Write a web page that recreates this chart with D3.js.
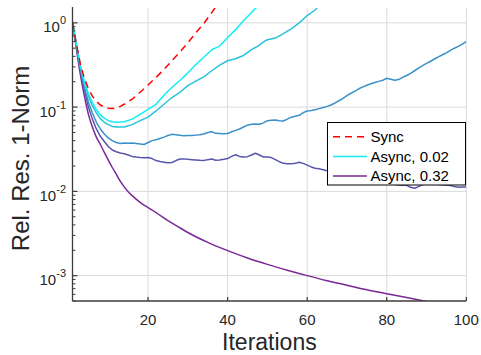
<!DOCTYPE html>
<html><head><meta charset="utf-8">
<script src="https://cdn.jsdelivr.net/npm/d3@7"></script>
<style>
html,body{margin:0;padding:0;background:#fff;}
svg{display:block;font-family:"Liberation Sans",Arial,Helvetica,sans-serif;}
</style></head>
<body><svg id="chart" width="481" height="355"></svg>
<script>
// ---------------- data ----------------
const xTicks = [20, 40, 60, 80, 100];
const yTickExps = [0, -1, -2, -3];
const legendLabels = ["Sync", "Async, 0.02", "Async, 0.32"];
const seriesNames = ["Sync", "Async, 0.02", "Async, 0.04", "Async, 0.08", "Async, 0.16", "Async, 0.32"];

const syncIter = [1,2,3,4,5,6,7,8,9,10,11,12,13,14,16,18,20,22,24,26,28,30,32,34,36,37];
const syncVal  = [1.0,0.55,0.32,0.22,0.165,0.135,0.117,0.106,0.100,0.097,0.096,0.097,0.102,0.108,0.124,0.150,0.183,0.225,0.280,0.355,0.45,0.58,0.76,0.98,1.32,1.55];

const a002Iter = [1,2,3,4,5,6,7,8,9,10,11,12,14,16,18,20,22,24,26,28,30,32,34,36,37,38,40,42,44,46,48];
const a002Val  = [1.0,0.55,0.31,0.20,0.145,0.113,0.093,0.081,0.074,0.069,0.067,0.066,0.067,0.072,0.082,0.094,0.108,0.138,0.172,0.207,0.255,0.32,0.39,0.48,0.505,0.53,0.67,0.83,1.06,1.33,1.65];

const a004Iter = [1,2,3,4,5,6,7,8,9,10,11,12,14,16,18,20,22,24,26,28,30,32,34,36,38,40,42,44,46,48,49,50,52,54,56,58,60,62,63];
const a004Val  = [1.0,0.55,0.30,0.19,0.135,0.104,0.085,0.073,0.066,0.062,0.059,0.058,0.058,0.062,0.069,0.076,0.09,0.108,0.13,0.15,0.18,0.203,0.228,0.27,0.315,0.355,0.375,0.41,0.48,0.545,0.595,0.63,0.66,0.744,0.85,1.0,1.22,1.42,1.6];

const a008Val = [1.0,0.53,0.28,0.17,0.115,0.085,0.066,0.055,0.048,0.043,
  0.040,0.038,0.037,0.0375,0.0372,0.0375,0.037,0.0365,0.036,0.038,
  0.040,0.041,0.0425,0.044,0.046,0.0475,0.047,0.0462,0.0458,0.046,
  0.046,0.0465,0.047,0.048,0.050,0.051,0.0488,0.0485,0.0483,0.0485,
  0.051,0.053,0.055,0.058,0.061,0.0625,0.063,0.0625,0.065,0.069,
  0.070,0.0705,0.069,0.0685,0.072,0.076,0.078,0.080,0.086,0.090,
  0.091,0.093,0.096,0.099,0.102,0.106,0.112,0.119,0.127,0.137,
  0.146,0.155,0.165,0.174,0.182,0.189,0.196,0.202,0.208,0.220,
  0.214,0.208,0.212,0.225,0.237,0.252,0.27,0.29,0.31,0.33,
  0.35,0.372,0.395,0.418,0.44,0.47,0.50,0.525,0.56,0.60];

const a016Val = [1.0,0.52,0.27,0.16,0.10,0.072,0.055,0.045,0.039,0.034,
  0.031,0.0295,0.0285,0.028,0.027,0.026,0.0255,0.0252,0.025,0.0252,
  0.0245,0.0232,0.0226,0.0222,0.0218,0.022,0.0232,0.0242,0.0243,0.024,
  0.0238,0.0236,0.0234,0.0233,0.0238,0.0242,0.0234,0.0236,0.024,0.0245,
  0.026,0.0272,0.026,0.0255,0.0258,0.027,0.0283,0.027,0.0256,0.0255,
  0.0252,0.0238,0.0225,0.0215,0.0213,0.0212,0.0215,0.0222,0.0215,0.0205,
  0.0195,0.0188,0.0185,0.0181,0.0176,0.0172,0.0168,0.0165,0.0162,0.016,
  0.0157,0.0153,0.015,0.0146,0.0143,0.014,0.0136,0.0133,0.013,0.0127,
  0.0124,0.0121,0.0119,0.0118,0.0118,0.0112,0.0109,0.0114,0.012,0.0122,
  0.0124,0.0123,0.0121,0.012,0.0119,0.0117,0.0114,0.0112,0.0113,0.0113];

const a032Iter = [1,2,3,4,5,6,7,8,9,10,11,12,13,14,15,16,18,20,22,25,28,30,35,40,45,50,55,60,65,70,75,80,85,90,95,100];
const a032Val  = [1.0,0.48,0.24,0.135,0.082,0.058,0.044,0.036,0.029,0.0235,0.0192,0.016,0.0132,0.0113,0.0099,0.0089,0.0074,0.0064,0.0056,0.0045,0.0037,0.00325,0.00248,0.00198,0.00162,0.00136,0.00116,0.0010,0.00087,0.00077,0.00068,0.00061,0.00055,0.000495,0.00045,0.00041];

const fullIter = d3.range(1, 101);

// ---------------- layout ----------------
const svg = d3.select("#chart");
const L = 72.5, R = 466.3, T = 8, B = 301;
const x = d3.scaleLinear().domain([1, 100]).range([L, R]);
const y = d3.scaleLog().domain([5e-4, 1.5]).range([B, T]);

const colors = ["#ff0000", "#12eef2", "#27c3dc", "#3a90ca", "#5856aa", "#7a2896"];

// grid
const grid = svg.append("g");
xTicks.forEach(t => grid.append("line").attr("x1", x(t)).attr("x2", x(t)).attr("y1", T).attr("y2", B)
  .attr("stroke", "#dadada").attr("stroke-width", 1));
yTickExps.forEach(e => grid.append("line").attr("x1", L).attr("x2", R).attr("y1", y(Math.pow(10, e))).attr("y2", y(Math.pow(10, e)))
  .attr("stroke", "#dadada").attr("stroke-width", 1));

// clip
svg.append("clipPath").attr("id", "clip").append("rect").attr("x", L).attr("y", T).attr("width", R - L).attr("height", B - T);

const zip = (a, b) => a.map((v, i) => [v, b[i]]);
const series = [
  {data: zip(syncIter, syncVal), dash: "7,5", curve: d3.curveLinear},
  {data: zip(a002Iter, a002Val), curve: d3.curveLinear},
  {data: zip(a004Iter, a004Val), curve: d3.curveLinear},
  {data: zip(fullIter, a008Val), curve: d3.curveLinear},
  {data: zip(fullIter, a016Val), curve: d3.curveLinear},
  {data: zip(a032Iter, a032Val), curve: d3.curveMonotoneX}
];
const lines = svg.append("g").attr("clip-path", "url(#clip)");
const order = [5, 4, 3, 2, 1, 0];
order.forEach(i => {
  const s = series[i];
  lines.append("path").datum(s.data)
    .attr("d", d3.line().x(d => x(d[0])).y(d => y(d[1])).curve(s.curve))
    .attr("fill", "none").attr("stroke", colors[i]).attr("stroke-width", 1.5)
    .attr("stroke-dasharray", s.dash || null).attr("stroke-linejoin", "round");
});

// axes
const axisColor = "#3c3c3c";
svg.append("line").attr("x1", L).attr("x2", L).attr("y1", T - 1).attr("y2", B).attr("stroke", axisColor).attr("stroke-width", 1.3);
svg.append("line").attr("x1", L).attr("x2", R).attr("y1", B).attr("y2", B).attr("stroke", axisColor).attr("stroke-width", 1.3);

// x ticks (inside)
xTicks.forEach(t => {
  svg.append("line").attr("x1", x(t)).attr("x2", x(t)).attr("y1", B).attr("y2", B - 4).attr("stroke", axisColor).attr("stroke-width", 1.2);
  svg.append("text").attr("x", x(t)).attr("y", 324.5).attr("text-anchor", "middle")
    .attr("font-size", 15).attr("fill", "#262626").text(t);
});

// y minor ticks
for (let d = -4; d <= 0; d++) {
  for (let k = 2; k <= 9; k++) {
    const v = k * Math.pow(10, d);
    if (v < 5e-4 || v > 1.5) continue;
    svg.append("line").attr("x1", L).attr("x2", L + 3).attr("y1", y(v)).attr("y2", y(v)).attr("stroke", axisColor).attr("stroke-width", 1);
  }
}
// y major ticks + labels
yTickExps.forEach(e => {
  const yy = y(Math.pow(10, e));
  svg.append("line").attr("x1", L).attr("x2", L + 5).attr("y1", yy).attr("y2", yy).attr("stroke", axisColor).attr("stroke-width", 1.2);
  const t = svg.append("text").attr("x", 66).attr("y", yy + 9.6).attr("text-anchor", "end").attr("fill", "#262626").attr("font-size", 15);
  t.append("tspan").text("10");
  t.append("tspan").attr("font-size", 11).attr("dy", -8).text(String(e));
});

// axis labels
svg.append("text").attr("x", (L + R) / 2).attr("y", 349.5).attr("text-anchor", "middle")
  .attr("font-size", 23).attr("fill", "#262626").text("Iterations");
svg.append("text").attr("transform", "translate(29," + 158.5 + ") rotate(-90)").attr("text-anchor", "middle")
  .attr("font-size", 24).attr("fill", "#262626").text("Rel. Res. 1-Norm");

// legend
const lg = svg.append("g");
lg.append("rect").attr("x", 327.5).attr("y", 122.5).attr("width", 138).attr("height", 62.5)
  .attr("fill", "#fff").attr("stroke", "#000").attr("stroke-width", 1);
const legIdx = [0, 1, 5];
const legY = [136.7, 156.5, 176];
legIdx.forEach((si, j) => {
  lg.append("line").attr("x1", 333).attr("x2", 367).attr("y1", legY[j]).attr("y2", legY[j])
    .attr("stroke", colors[si]).attr("stroke-width", 1.5).attr("stroke-dasharray", si === 0 ? "7,5" : null);
  lg.append("text").attr("x", 370.5).attr("y", legY[j] + 5.3).attr("font-size", 15).attr("fill", "#000").text(legendLabels[j]);
});
</script></body></html>
